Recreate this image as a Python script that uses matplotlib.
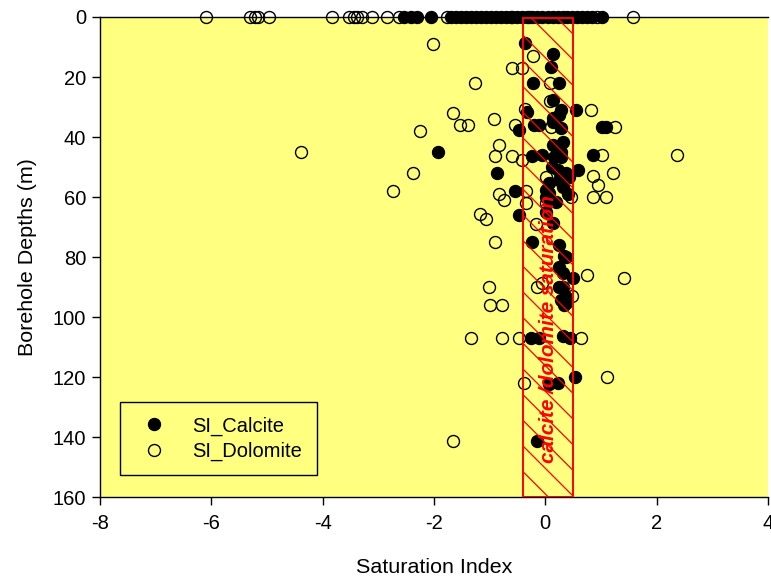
import matplotlib
matplotlib.use("Agg")
import matplotlib.pyplot as plt
from matplotlib.patches import Rectangle

# render at 77.1 dpi so the hatch spacing matches; k turns "100-dpi points" into real points
DPI = 77.1
k = 100 / DPI

plt.rcParams['font.family'] = ['Liberation Sans', 'DejaVu Sans']
plt.rcParams['axes.unicode_minus'] = False
plt.rcParams['hatch.linewidth'] = 0.9 * k

# saturation index values sitting on the surface line (depth 0)
calcite_top = [-2.53, -2.41, -2.30, -2.05, -1.69, -1.60, -1.51, -1.42, -1.33, -1.24,
               -1.15, -1.06, -0.97, -0.88, -0.79, -0.70, -0.59, -0.50, -0.41, -0.32,
               -0.23, -0.14, -0.05, 0.04, 0.13, 0.22, 0.31, 0.39, 0.48, 0.57,
               0.66, 0.75, 0.84, 1.02]
dolomite_top = [-6.09, -5.31, -5.22, -5.17, -4.96, -3.84, -3.52, -3.43, -3.38, -3.29,
                -3.11, -2.84, -2.62, -1.76, -0.62, -0.30, 0.93, 1.58]

# deeper samples: saturation index and depth (m)
calcite_si = [-0.36, 0.13, 0.11, -0.22, 0.25, 0.13, -0.32, 0.28, 0.55, 0.25,
              0.13, 0.13, -0.48, -0.20, -0.11, 0.28, 1.02, 1.09, 0.31, 0.13,
              -1.92, -0.23, -0.05, 0.20, 0.28, 0.16, 0.28, 0.12, 0.22, 0.58,
              0.37, 0.43, 0.85, -0.87, -0.54, 0.07, 0.31, 0.25, 0.01, 0.07,
              0.40, 0.01, 0.07, 0.19, -0.47, 0.01, 0.13, -0.24, 0.25, 0.34,
              0.37, 0.25, 0.31, 0.49, 0.31, 0.25, 0.37, 0.28, 0.34, 0.37,
              -0.26, -0.11, 0.31, 0.44, 0.53, 0.07, 0.22, -0.15]
calcite_depth = [8.8, 12.5, 16.6, 22.1, 22.0, 27.8, 31.6, 31.0, 31.0, 32.7,
                 33.8, 35.0, 37.7, 36.0, 36.0, 37.1, 36.7, 36.7, 41.8, 42.7,
                 45.0, 46.2, 46.0, 43.2, 45.0, 46.6, 46.5, 50.0, 51.0, 51.0,
                 52.1, 53.2, 46.0, 52.1, 58.0, 55.4, 56.6, 54.3, 57.7, 58.8,
                 59.0, 59.9, 61.0, 61.6, 66.0, 64.9, 68.8, 74.9, 76.0, 79.5,
                 79.9, 83.2, 85.4, 87.1, 89.9, 89.9, 93.2, 94.3, 96.0, 95.4,
                 107.1, 107.1, 106.3, 107.1, 120.1, 122.2, 122.1, 141.2]

dolomite_si = [-2.01, -0.22, -0.60, -0.42, -1.26, 0.08, -1.65, -1.53, -1.38, -0.92,
               -2.25, -0.36, 0.08, 0.83, -0.54, 0.10, 1.25, -0.84, -4.38, -0.90,
               -0.60, -0.42, 1.02, 2.36, -2.37, -2.73, -0.84, -0.75, -0.35, -0.35,
               0.01, 0.47, 0.85, 0.95, 1.21, 0.85, 1.09, -1.18, -1.06, -0.17,
               0.01, -0.90, 0.75, 1.41, -1.02, -0.14, -0.05, 0.48, -0.99, -0.78,
               -1.33, -0.78, -0.48, 0.65, -0.39, 1.10, -1.65]
dolomite_depth = [9.0, 13.0, 16.9, 16.9, 22.1, 21.9, 32.1, 36.0, 36.0, 34.0,
                  37.9, 30.7, 27.9, 31.0, 36.0, 36.6, 36.6, 42.8, 45.0, 46.2,
                  46.2, 47.8, 46.0, 46.0, 52.1, 57.9, 58.9, 61.0, 57.9, 62.0,
                  53.4, 59.9, 53.1, 56.0, 52.1, 60.0, 60.0, 65.7, 67.2, 69.0,
                  62.1, 75.0, 86.0, 87.1, 90.1, 90.1, 88.8, 93.1, 96.0, 96.0,
                  107.1, 107.1, 107.1, 107.1, 122.1, 120.1, 141.2]

calcite_x = calcite_top + calcite_si
calcite_y = [0] * len(calcite_top) + calcite_depth
dolomite_x = dolomite_top + dolomite_si
dolomite_y = [0] * len(dolomite_top) + dolomite_depth

# saturation band
band_left, band_right = -0.4, 0.5
band_top, band_bottom = 0.4, 160

fs = 14.5 * k

fig = plt.figure(figsize=(771 / DPI, 576 / DPI), dpi=DPI)
ax = fig.add_axes([0.1297, 0.137, 0.8663, 0.8335])
ax.set_facecolor('#ffff80')

ax.plot(calcite_x, calcite_y, 'o', ms=8.6 * k, mfc='black', mec='black', mew=1.0 * k,
        label='SI_Calcite', clip_on=False, zorder=3)
ax.plot(dolomite_x, dolomite_y, 'o', ms=8.6 * k, mfc='none', mec='black', mew=1.0 * k,
        label='SI_Dolomite', clip_on=False, zorder=3)

ax.add_patch(Rectangle((band_left, band_top), band_right - band_left, band_bottom - band_top,
                       facecolor='none', edgecolor='red', hatch='\\', lw=1.4 * k, zorder=4))
ax.text((band_left + band_right) / 2, 104, 'calcite /dolomite saturation', color='red',
        rotation=90, ha='center', va='center', fontsize=15 * k, fontweight='bold',
        fontstyle='italic', zorder=5)

ax.set_xlim(-8, 4)
ax.set_ylim(160, 0)
ax.set_xticks(range(-8, 5, 2))
ax.set_yticks(range(0, 161, 20))
ax.spines['right'].set_visible(False)
for s in ['left', 'bottom', 'top']:
    ax.spines[s].set_linewidth(1.0 * k)
ax.tick_params(direction='out', length=6 * k, width=1 * k, labelsize=fs, pad=4 * k)
ax.tick_params(axis='x', top=False, pad=6 * k)

ax.set_xlabel('Saturation Index', fontsize=15.5 * k, labelpad=18 * k)
ax.set_ylabel('Borehole Depths (m)', fontsize=15.5 * k, labelpad=11 * k)

leg = ax.legend(loc='lower left', bbox_to_anchor=(0.03, 0.046), fontsize=fs,
                frameon=True, fancybox=False, edgecolor='black', facecolor='#ffff80',
                framealpha=1, borderpad=0.7, handlelength=2.0, handletextpad=0.9,
                labelspacing=0.3, borderaxespad=0, numpoints=1)
leg.get_frame().set_linewidth(1.0 * k)

fig.savefig('out.png', dpi=DPI)
